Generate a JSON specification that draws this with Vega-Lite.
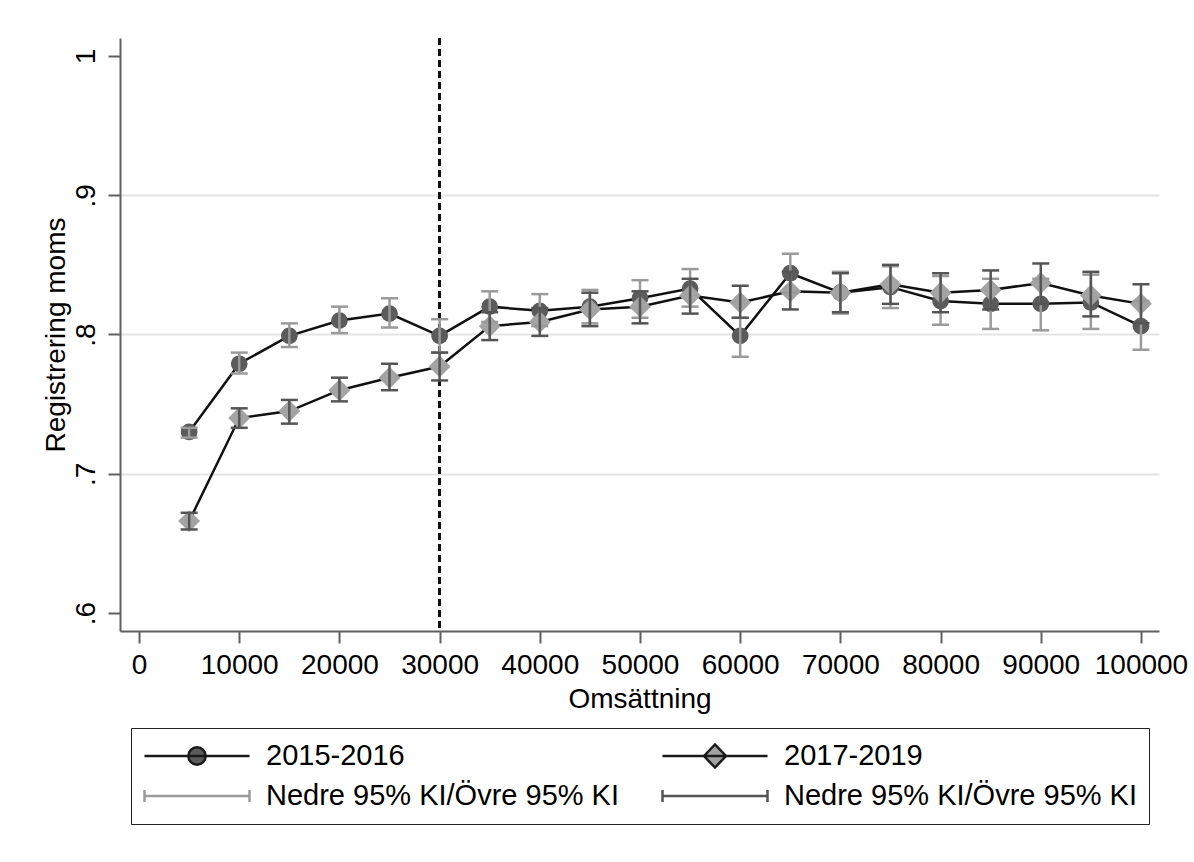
{
  "$schema": "https://vega.github.io/schema/vega-lite/v6.json",
  "width": 1039,
  "height": 593,
  "autosize": {"type": "none"},
  "padding": {"left": 120, "top": 38, "right": 35, "bottom": 231},
  "background": "white",
  "config": {
    "font": "Liberation Sans",
    "view": {"stroke": null},
    "axis": {
      "labelFont": "Liberation Sans",
      "titleFont": "Liberation Sans",
      "labelFontSize": 28,
      "titleFontSize": 28,
      "titleFontWeight": "normal",
      "labelColor": "#000000",
      "titleColor": "#000000",
      "domainColor": "#606060",
      "domainWidth": 2,
      "tickColor": "#606060",
      "tickWidth": 2,
      "tickSize": 12
    },
    "legend": {
      "labelFont": "Liberation Sans",
      "labelFontSize": 29,
      "labelColor": "#000000",
      "labelLimit": 600
    }
  },
  "datasets": {
    "ci": [
      {"x": 5000, "series": "2015-2016", "val": 0.730, "lo": 0.726, "hi": 0.733},
      {"x": 10000, "series": "2015-2016", "val": 0.779, "lo": 0.772, "hi": 0.787},
      {"x": 15000, "series": "2015-2016", "val": 0.799, "lo": 0.791, "hi": 0.808},
      {"x": 20000, "series": "2015-2016", "val": 0.810, "lo": 0.801, "hi": 0.820},
      {"x": 25000, "series": "2015-2016", "val": 0.815, "lo": 0.805, "hi": 0.826},
      {"x": 30000, "series": "2015-2016", "val": 0.799, "lo": 0.787, "hi": 0.811},
      {"x": 35000, "series": "2015-2016", "val": 0.820, "lo": 0.809, "hi": 0.831},
      {"x": 40000, "series": "2015-2016", "val": 0.817, "lo": 0.806, "hi": 0.829},
      {"x": 45000, "series": "2015-2016", "val": 0.820, "lo": 0.808, "hi": 0.832},
      {"x": 50000, "series": "2015-2016", "val": 0.826, "lo": 0.812, "hi": 0.839},
      {"x": 55000, "series": "2015-2016", "val": 0.833, "lo": 0.820, "hi": 0.847},
      {"x": 60000, "series": "2015-2016", "val": 0.799, "lo": 0.784, "hi": 0.812},
      {"x": 65000, "series": "2015-2016", "val": 0.844, "lo": 0.830, "hi": 0.858},
      {"x": 70000, "series": "2015-2016", "val": 0.830, "lo": 0.815, "hi": 0.845},
      {"x": 75000, "series": "2015-2016", "val": 0.834, "lo": 0.819, "hi": 0.849},
      {"x": 80000, "series": "2015-2016", "val": 0.824, "lo": 0.807, "hi": 0.842},
      {"x": 85000, "series": "2015-2016", "val": 0.822, "lo": 0.804, "hi": 0.840},
      {"x": 90000, "series": "2015-2016", "val": 0.822, "lo": 0.803, "hi": 0.840},
      {"x": 95000, "series": "2015-2016", "val": 0.823, "lo": 0.804, "hi": 0.843},
      {"x": 100000, "series": "2015-2016", "val": 0.806, "lo": 0.789, "hi": 0.824},
      {"x": 5000, "series": "2017-2019", "val": 0.666, "lo": 0.660, "hi": 0.672},
      {"x": 10000, "series": "2017-2019", "val": 0.740, "lo": 0.733, "hi": 0.747},
      {"x": 15000, "series": "2017-2019", "val": 0.745, "lo": 0.736, "hi": 0.753},
      {"x": 20000, "series": "2017-2019", "val": 0.760, "lo": 0.752, "hi": 0.769},
      {"x": 25000, "series": "2017-2019", "val": 0.769, "lo": 0.760, "hi": 0.779},
      {"x": 30000, "series": "2017-2019", "val": 0.777, "lo": 0.767, "hi": 0.787},
      {"x": 35000, "series": "2017-2019", "val": 0.806, "lo": 0.796, "hi": 0.816},
      {"x": 40000, "series": "2017-2019", "val": 0.809, "lo": 0.799, "hi": 0.819},
      {"x": 45000, "series": "2017-2019", "val": 0.818, "lo": 0.806, "hi": 0.830},
      {"x": 50000, "series": "2017-2019", "val": 0.820, "lo": 0.808, "hi": 0.831},
      {"x": 55000, "series": "2017-2019", "val": 0.828, "lo": 0.815, "hi": 0.840},
      {"x": 60000, "series": "2017-2019", "val": 0.823, "lo": 0.812, "hi": 0.835},
      {"x": 65000, "series": "2017-2019", "val": 0.831, "lo": 0.818, "hi": 0.845},
      {"x": 70000, "series": "2017-2019", "val": 0.830, "lo": 0.816, "hi": 0.844},
      {"x": 75000, "series": "2017-2019", "val": 0.836, "lo": 0.822, "hi": 0.850},
      {"x": 80000, "series": "2017-2019", "val": 0.830, "lo": 0.816, "hi": 0.844},
      {"x": 85000, "series": "2017-2019", "val": 0.832, "lo": 0.818, "hi": 0.846},
      {"x": 90000, "series": "2017-2019", "val": 0.837, "lo": 0.822, "hi": 0.851},
      {"x": 95000, "series": "2017-2019", "val": 0.828, "lo": 0.813, "hi": 0.845},
      {"x": 100000, "series": "2017-2019", "val": 0.822, "lo": 0.808, "hi": 0.836}
    ],
    "leg": [{"k": "A"}, {"k": "B"}, {"k": "C"}, {"k": "D"}]
  },
  "layer": [
    {
      "data": {"name": "ci"},
      "mark": {"type": "line", "color": "#111111", "strokeWidth": 2.5},
      "encoding": {
        "x": {
          "field": "x", "type": "quantitative",
          "scale": {"domain": [-1900, 101800], "nice": false, "zero": false},
          "axis": {
            "values": [0, 10000, 20000, 30000, 40000, 50000, 60000, 70000, 80000, 90000, 100000],
            "format": "d",
            "grid": false,
            "labelPadding": 8,
            "title": "Omsättning",
            "titlePadding": 6,
            "labelFlush": false,
            "labelOverlap": false
          }
        },
        "y": {
          "field": "val", "type": "quantitative",
          "scale": {"domain": [0.5871, 1.0129], "nice": false, "zero": false},
          "axis": {
            "values": [0.6, 0.7, 0.8, 0.9, 1],
            "labelExpr": "datum.value == 1 ? '1' : replace(format(datum.value, '.1f'), '0.', '.')",
            "labelAngle": -90,
            "labelPadding": 8,
            "grid": true,
            "gridColor": "#e4e4e4",
            "gridWidth": 2,
            "gridOpacity": {"condition": {"test": "datum.value < 0.65 || datum.value > 0.95", "value": 0}, "value": 1},
            "title": "Registrering moms",
            "titlePadding": 2
          }
        },
        "detail": {"field": "series", "type": "nominal"}
      }
    },
    {
      "data": {"name": "ci"},
      "mark": {"type": "rule", "color": "#111111", "strokeWidth": 1.5, "strokeDash": [7, 4]},
      "encoding": {"x": {"datum": 30000, "type": "quantitative"}}
    },
    {
      "data": {"name": "ci"},
      "transform": [{"filter": "datum.series == '2015-2016'"}],
      "mark": {"type": "point", "shape": "circle", "filled": true, "fill": "#5b5b5b", "opacity": 1, "size": 280, "strokeWidth": 0},
      "encoding": {
        "x": {"field": "x", "type": "quantitative"},
        "y": {"field": "val", "type": "quantitative"}
      }
    },
    {
      "data": {"name": "ci"},
      "transform": [{"filter": "datum.series == '2017-2019'"}],
      "mark": {"type": "point", "shape": "diamond", "filled": true, "fill": "#a3a3a3", "opacity": 1, "size": 480, "strokeWidth": 0},
      "encoding": {
        "x": {"field": "x", "type": "quantitative"},
        "y": {"field": "val", "type": "quantitative"}
      }
    },
    {
      "data": {"name": "ci"},
      "transform": [{"filter": "datum.series == '2015-2016'"}],
      "mark": {"type": "rule", "color": "#9a9a9a", "strokeWidth": 2.5},
      "encoding": {
        "x": {"field": "x", "type": "quantitative"},
        "y": {"field": "lo", "type": "quantitative"},
        "y2": {"field": "hi"}
      }
    },
    {
      "data": {"name": "ci"},
      "transform": [{"filter": "datum.series == '2015-2016'"}, {"fold": ["lo", "hi"], "as": ["end", "yv"]}],
      "mark": {"type": "tick", "orient": "horizontal", "color": "#9a9a9a", "size": 17, "thickness": 2.5, "opacity": 1},
      "encoding": {
        "x": {"field": "x", "type": "quantitative"},
        "y": {"field": "yv", "type": "quantitative"}
      }
    },
    {
      "data": {"name": "ci"},
      "transform": [{"filter": "datum.series == '2017-2019'"}],
      "mark": {"type": "rule", "color": "#555555", "strokeWidth": 2.5},
      "encoding": {
        "x": {"field": "x", "type": "quantitative"},
        "y": {"field": "lo", "type": "quantitative"},
        "y2": {"field": "hi"}
      }
    },
    {
      "data": {"name": "ci"},
      "transform": [{"filter": "datum.series == '2017-2019'"}, {"fold": ["lo", "hi"], "as": ["end", "yv"]}],
      "mark": {"type": "tick", "orient": "horizontal", "color": "#555555", "size": 17, "thickness": 2.5, "opacity": 1},
      "encoding": {
        "x": {"field": "x", "type": "quantitative"},
        "y": {"field": "yv", "type": "quantitative"}
      }
    },
    {
      "data": {"name": "leg"},
      "mark": {"type": "point", "opacity": 0},
      "encoding": {
        "shape": {
          "field": "k", "type": "nominal",
          "scale": {
            "domain": ["A", "B", "C", "D"],
            "range": [
              "M-1,0H1M-0.165,0A0.165,0.165 0 1 0 0.165,0A0.165,0.165 0 1 0 -0.165,0Z",
              "M-1,0H1M-0.21,0L0,-0.22L0.21,0L0,0.22Z",
              "M-1,-0.115V0.115M-1,0H1M1,-0.115V0.115",
              "M-1,-0.115V0.115M-1,0H1M1,-0.115V0.115"
            ]
          },
          "legend": {
            "title": null,
            "orient": "none",
            "legendX": 11,
            "legendY": 690,
            "direction": "horizontal",
            "columns": 2,
            "columnPadding": 42,
            "rowPadding": 8,
            "clipHeight": 32,
            "symbolSize": 11025,
            "symbolStrokeWidth": 2.5,
            "symbolOpacity": 1,
            "labelOffset": 15,
            "padding": 12,
            "strokeColor": "#222222",
            "labelExpr": "datum.value == 'A' ? '2015-2016' : datum.value == 'B' ? '2017-2019' : 'Nedre 95% KI/Övre 95% KI'"
          }
        },
        "stroke": {
          "field": "k", "type": "nominal",
          "scale": {"domain": ["A", "B", "C", "D"], "range": ["#1a1a1a", "#1a1a1a", "#9a9a9a", "#555555"]},
          "legend": {
            "title": null,
            "orient": "none",
            "legendX": 11,
            "legendY": 690,
            "direction": "horizontal",
            "columns": 2,
            "columnPadding": 42,
            "rowPadding": 8,
            "clipHeight": 32,
            "symbolSize": 11025,
            "symbolStrokeWidth": 2.5,
            "symbolOpacity": 1,
            "labelOffset": 15,
            "padding": 12,
            "strokeColor": "#222222",
            "labelExpr": "datum.value == 'A' ? '2015-2016' : datum.value == 'B' ? '2017-2019' : 'Nedre 95% KI/Övre 95% KI'"
          }
        },
        "fill": {
          "field": "k", "type": "nominal",
          "scale": {"domain": ["A", "B", "C", "D"], "range": ["#5b5b5b", "#a3a3a3", "transparent", "transparent"]},
          "legend": {
            "title": null,
            "orient": "none",
            "legendX": 11,
            "legendY": 690,
            "direction": "horizontal",
            "columns": 2,
            "columnPadding": 42,
            "rowPadding": 8,
            "clipHeight": 32,
            "symbolSize": 11025,
            "symbolStrokeWidth": 2.5,
            "symbolOpacity": 1,
            "labelOffset": 15,
            "padding": 12,
            "strokeColor": "#222222",
            "labelExpr": "datum.value == 'A' ? '2015-2016' : datum.value == 'B' ? '2017-2019' : 'Nedre 95% KI/Övre 95% KI'"
          }
        }
      }
    }
  ]
}
